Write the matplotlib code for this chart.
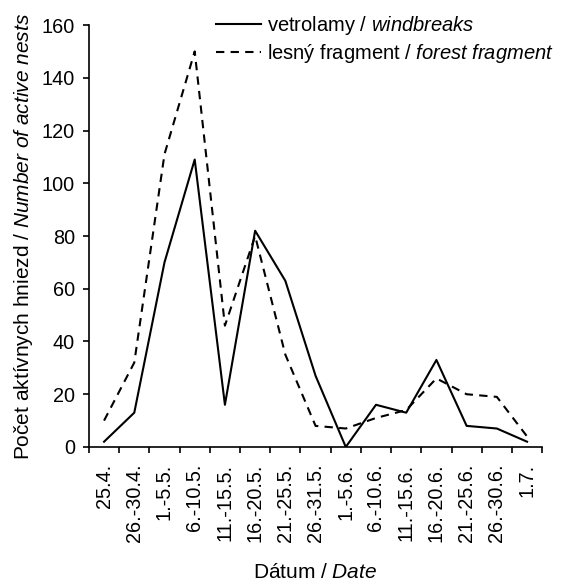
import numpy as np
import matplotlib

matplotlib.use("Agg")
import matplotlib.pyplot as plt

plt.rcParams["font.family"] = ["Liberation Sans", "DejaVu Sans"]
plt.rcParams["mathtext.fontset"] = "custom"
plt.rcParams["mathtext.rm"] = "Liberation Sans"
plt.rcParams["mathtext.it"] = "Liberation Sans:italic"

dates = ["25.4.", "26.-30.4.", "1.-5.5.", "6.-10.5.", "11.-15.5.", "16.-20.5.",
         "21.-25.5.", "26.-31.5.", "1.-5.6.", "6.-10.6.", "11.-15.6.", "16.-20.6.",
         "21.-25.6.", "26.-30.6.", "1.7."]
windbreaks = [2, 13, 70, 109, 16, 82, 63, 27, 0, 16, 13, 33, 8, 7, 2]
forest = [10, 32, 111, 150, 46, 80, 35, 8, 7, 11, 14, 26, 20, 19, 4]

fig = plt.figure(figsize=(5.63, 5.82), dpi=100)
ax = fig.add_axes([0.158, 0.232, 0.805, 0.725])

x = np.arange(len(dates))
ax.plot(x, windbreaks, color="black", lw=1.5, label=r"vetrolamy / $\it{windbreaks}$")
ax.plot(x, forest, color="black", lw=1.5, dashes=(4, 3),
        label=r"lesný fragment / $\it{forest\ fragment}$")

ax.set_xlim(-0.5, len(dates) - 0.5)
ax.set_ylim(0, 160)
ax.set_yticks(range(0, 161, 20))
ax.set_xticks(np.arange(-0.5, len(dates)), labels=[])
ax.set_xticks(x, labels=dates, minor=True, rotation=90)
ax.tick_params(axis="x", which="minor", length=0, pad=12, labelsize=14.3)
ax.tick_params(axis="both", which="major", direction="out", length=4, width=1.2,
               pad=6, labelsize=14.3)

for s in ["top", "right"]:
    ax.spines[s].set_visible(False)
for s in ["left", "bottom"]:
    ax.spines[s].set_linewidth(1.2)

ax.set_ylabel(r"Počet aktívnych hniezd / $\it{Number\ of\ active\ nests}$", fontsize=15, labelpad=5)
ax.set_xlabel(r"Dátum / $\it{Date}$", fontsize=15, labelpad=15)

ax.legend(loc="upper right", bbox_to_anchor=(1.065, 1.068), frameon=False, fontsize=14.5,
          handlelength=2.2, handletextpad=0.3, labelspacing=0.25)

fig.savefig("out.png", dpi=100)
